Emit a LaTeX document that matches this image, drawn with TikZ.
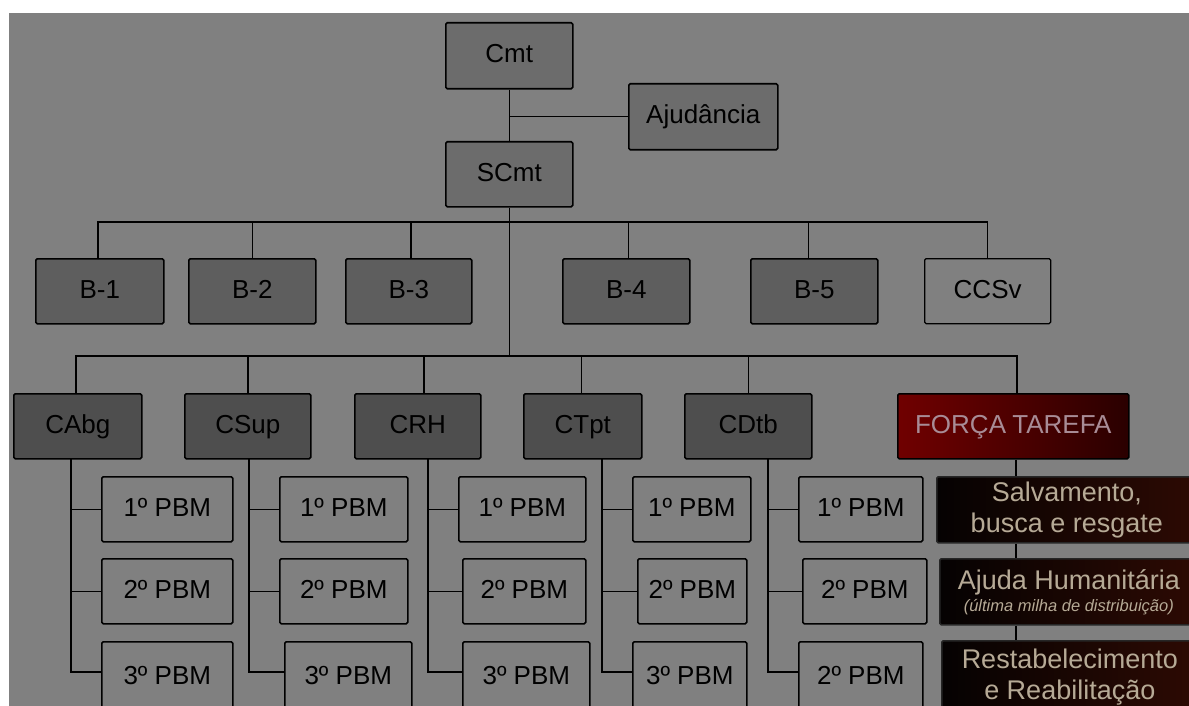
\documentclass[tikz,border=0pt]{standalone}
\usepackage{fontspec}
\setmainfont{Liberation Sans}
\begin{document}
\begin{tikzpicture}[x=1pt,y=-1pt,
  base/.style={draw=black, line width=1.6pt, rounded corners=1.5pt, inner sep=0pt, anchor=north west},
  box/.style={base, font=\fontsize{26}{30}\selectfont, text=black, text height=19pt, text depth=5pt},
  topbox/.style={box, fill=topfill},
  bbox/.style={box, fill=bfill},
  cbox/.style={box, fill=cfill},
  pbm/.style={box},
  ftbox/.style={box, left color=ftL, right color=ftR, text=fttext},
  task/.style={base, draw=black!85, left color=tkL, middle color=tkL, right color=tkR, text=tktext, align=center,
    font=\fontsize{27}{31}\selectfont},
  conn/.style={draw=black, line width=1.4pt}]
\definecolor{bg}{RGB}{128,128,128}
\definecolor{topfill}{RGB}{108,108,108}
\definecolor{bfill}{RGB}{94,94,94}
\definecolor{cfill}{RGB}{78,78,78}
\definecolor{ftL}{RGB}{112,0,0}
\definecolor{ftR}{RGB}{42,0,0}
\definecolor{fttext}{RGB}{168,140,150}
\definecolor{tkL}{RGB}{5,2,2}
\definecolor{tkR}{RGB}{45,10,3}
\definecolor{tktext}{RGB}{182,170,150}
\useasboundingbox (0,0) rectangle (1189,706);
\clip (0,0) rectangle (1189,706);
\fill[white] (0,0) rectangle (1189,706);
\fill[bg] (9,13) rectangle (1189,706);

% top
\node[topbox, minimum width=127pt, minimum height=66pt] (cmt) at (445,22) {Cmt};
\node[topbox, minimum width=149pt, minimum height=66pt] (aj) at (628,83) {Ajudância};
\node[topbox, minimum width=127pt, minimum height=65pt] (scmt) at (445,141) {SCmt};

% B row
\node[bbox, minimum width=128pt, minimum height=65pt] (b1) at (35,258) {B-1};
\node[bbox, minimum width=127pt, minimum height=65pt] (b2) at (188,258) {B-2};
\node[bbox, minimum width=126pt, minimum height=65pt] (b3) at (345,258) {B-3};
\node[bbox, minimum width=127pt, minimum height=65pt] (b4) at (562,258) {B-4};
\node[bbox, minimum width=127pt, minimum height=65pt] (b5) at (750,258) {B-5};
\node[box, minimum width=126pt, minimum height=65pt, line width=1.3pt] (ccsv) at (924,258) {CCSv};

% C row
\node[cbox, minimum width=128pt, minimum height=65pt] (cabg) at (13,393) {CAbg};
\node[cbox, minimum width=126pt, minimum height=65pt] (csup) at (184,393) {CSup};
\node[cbox, minimum width=126pt, minimum height=65pt] (crh) at (354,393) {CRH};
\node[cbox, minimum width=118pt, minimum height=65pt] (ctpt) at (523,393) {CTpt};
\node[cbox, minimum width=127pt, minimum height=65pt] (cdtb) at (684,393) {CDtb};
\node[ftbox, minimum width=231pt, minimum height=65pt] (ft) at (897,393) {FORÇA\kern-1pt\ TAREFA};

% PBM boxes
\node[pbm, minimum width=131pt, minimum height=65pt] (a1) at (101,476) {1º PBM};
\node[pbm, minimum width=131pt, minimum height=65pt] (a2) at (101,558) {2º PBM};
\node[pbm, minimum width=131pt, minimum height=72pt] (a3) at (101,641) {3º PBM};
\node[pbm, minimum width=128pt, minimum height=65pt] (s1) at (279,476) {1º PBM};
\node[pbm, minimum width=128pt, minimum height=65pt] (s2) at (279,558) {2º PBM};
\node[pbm, minimum width=127pt, minimum height=72pt] (s3) at (284,641) {3º PBM};
\node[pbm, minimum width=127pt, minimum height=65pt] (r1) at (458,476) {1º PBM};
\node[pbm, minimum width=123pt, minimum height=65pt] (r2) at (462,558) {2º PBM};
\node[pbm, minimum width=127pt, minimum height=72pt] (r3) at (462,641) {3º PBM};
\node[pbm, minimum width=118pt, minimum height=65pt] (t1) at (632,476) {1º PBM};
\node[pbm, minimum width=109pt, minimum height=65pt] (t2) at (637,558) {2º PBM};
\node[pbm, minimum width=114pt, minimum height=72pt] (t3) at (632,641) {3º PBM};
\node[pbm, minimum width=124pt, minimum height=65pt] (d1) at (798,476) {1º PBM};
\node[pbm, minimum width=124pt, minimum height=65pt] (d2) at (802,558) {2º PBM};
\node[pbm, minimum width=124pt, minimum height=72pt] (d3) at (798,641) {2º PBM};

% task boxes
\node[task, minimum width=260pt, minimum height=66pt] (salv) at (936,476) {Salvamento,\\busca e resgate};
\node[task, minimum width=258pt, minimum height=66pt] (ajh) at (939,558)
  {Ajuda Humanitária\\[-9pt]{\fontsize{16.5}{18}\selectfont\itshape (última milha de distribuição)}};
\node[task, minimum width=256pt, minimum height=72pt] (rest) at (941,640) {Restabelecimento\\e Reabilitação};

% bus coordinates
\coordinate (bbus) at (0,222);
\coordinate (cbus) at (0,356);
\coordinate (tA) at (71,458);
\coordinate (tS) at (249,458);
\coordinate (tR) at (428,458);
\coordinate (tT) at (602,458);
\coordinate (tD) at (768,458);
\coordinate (fx) at (1016,0);

% connectors top
\draw[conn] (cmt.south) -- (scmt.north);
\draw[conn] (aj.west) -- (aj.west -| cmt.south);
% B bus
\draw[conn] ([xshift=-2pt]b1.north) -- ([xshift=-2pt]b1.north |- bbus) -- (ccsv.north |- bbus) -- (ccsv.north);
\draw[conn] (b2.north) -- (b2.north |- bbus);
\draw[conn] ([xshift=2pt]b3.north) -- ([xshift=2pt]b3.north |- bbus);
\draw[conn] ([xshift=2pt]b4.north) -- ([xshift=2pt]b4.north |- bbus);
\draw[conn] ([xshift=-6pt]b5.north) -- ([xshift=-6pt]b5.north |- bbus);
% trunk
\draw[conn] (scmt.south) -- (scmt.south |- cbus);
% C bus
\draw[conn] ([xshift=-2pt]cabg.north) -- ([xshift=-2pt]cabg.north |- cbus) -- ([xshift=3.5pt]ft.north |- cbus) -- ([xshift=3.5pt]ft.north);
\draw[conn] (csup.north) -- (csup.north |- cbus);
\draw[conn] ([xshift=6pt]crh.north) -- ([xshift=6pt]crh.north |- cbus);
\draw[conn] ([xshift=-1.5pt]ctpt.north) -- ([xshift=-1.5pt]ctpt.north |- cbus);
\draw[conn] (cdtb.north) -- (cdtb.north |- cbus);
% PBM branches
\foreach \t/\p in {tA/a,tS/s,tR/r,tT/t,tD/d}{
  \draw[conn] (\t) |- (\p1.west);
  \draw[conn] (\t) |- (\p2.west);
  \draw[conn] (\t) |- ([yshift=6pt]\p3.west);
}
% task chain
\draw[conn] (ft.south -| fx) -- (salv.north -| fx);
\draw[conn] (salv.south -| fx) -- (ajh.north -| fx);
\draw[conn] (ajh.south -| fx) -- (rest.north -| fx);
\end{tikzpicture}
\end{document}
